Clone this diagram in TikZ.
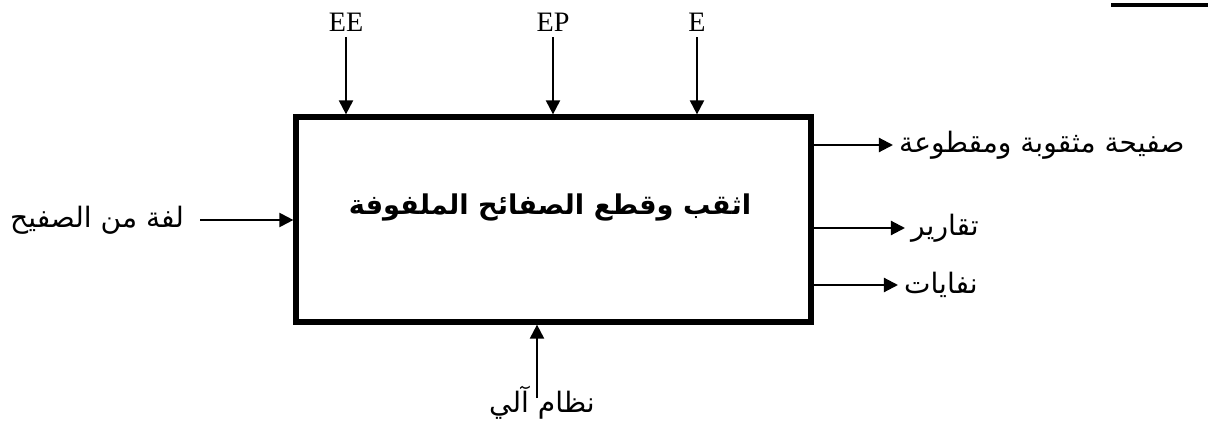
\documentclass[tikz,border=0pt]{standalone}
\usepackage{fontspec}
\setmainfont{Liberation Serif}
\newfontfamily\arabicfont[Script=Arabic]{DejaVu Sans}
\TeXXeTstate=1
\usetikzlibrary{positioning,arrows.meta}
\tikzset{
process/.style={draw, line width=3pt, minimum width=10.3cm, minimum height=4.1cm, inner sep=0pt}, % the main activity box
flow/.style={-{Triangle[length=8pt,width=8pt]}, line width=1.2pt}, % inputs, outputs, controls
ar/.style={font=\arabicfont\fontsize{16}{18}\selectfont},
title/.style={font=\arabicfont\bfseries\fontsize{15.5}{18}\selectfont},
lat/.style={font=\fontsize{16}{18}\selectfont},
}

\begin{document}
\begin{tikzpicture}[x=0.02cm,y=-0.02cm]
   \useasboundingbox (0,0) rectangle (1208,429);
   \node[process] (box) at (553.5,219.5) {};
   \node[title] (name) at (550,207) {\beginR اثقب وقطع الصفائح الملفوفة\endR};
   % controls
   \node[lat] (ee) at (346,22) {EE};
   \node[lat] (ep) at (553,22) {EP};
   \node[lat] (e) at (697,22) {E};
   \draw[flow] (ee) -- (ee |- box.north);
   \draw[flow] (ep) -- (ep |- box.north);
   \draw[flow] (e) -- (e |- box.north);
   % input
   \node[ar] (coil) at (97,220) {\beginR لفة من الصفيح\endR};
   \coordinate (coil-end) at (200,220);
   \draw[flow] (coil-end) -- (coil-end -| box.west);
   % outputs
   \node[ar, anchor=west] (sheet) at (893,145) {\beginR صفيحة مثقوبة ومقطوعة\endR};
   \node[ar, anchor=west] (report) at (905,228) {\beginR تقارير\endR};
   \node[ar, anchor=west] (waste) at (898,285) {\beginR نفايات\endR};
   \draw[flow] (sheet.west -| box.east) -- (sheet.west);
   \draw[flow] (report.west -| box.east) -- (report.west);
   \draw[flow] (waste.west -| box.east) -- (waste.west);
   % mechanism
   \node[ar] (auto) at (542,403) {\beginR نظام آلي\endR};
   \coordinate (auto-start) at (537,398);
   \draw[flow] (auto-start) -- (auto-start |- box.south);
   \draw[line width=2.3pt] (1111,5) -- (1208,5);
\end{tikzpicture}
\end{document}
